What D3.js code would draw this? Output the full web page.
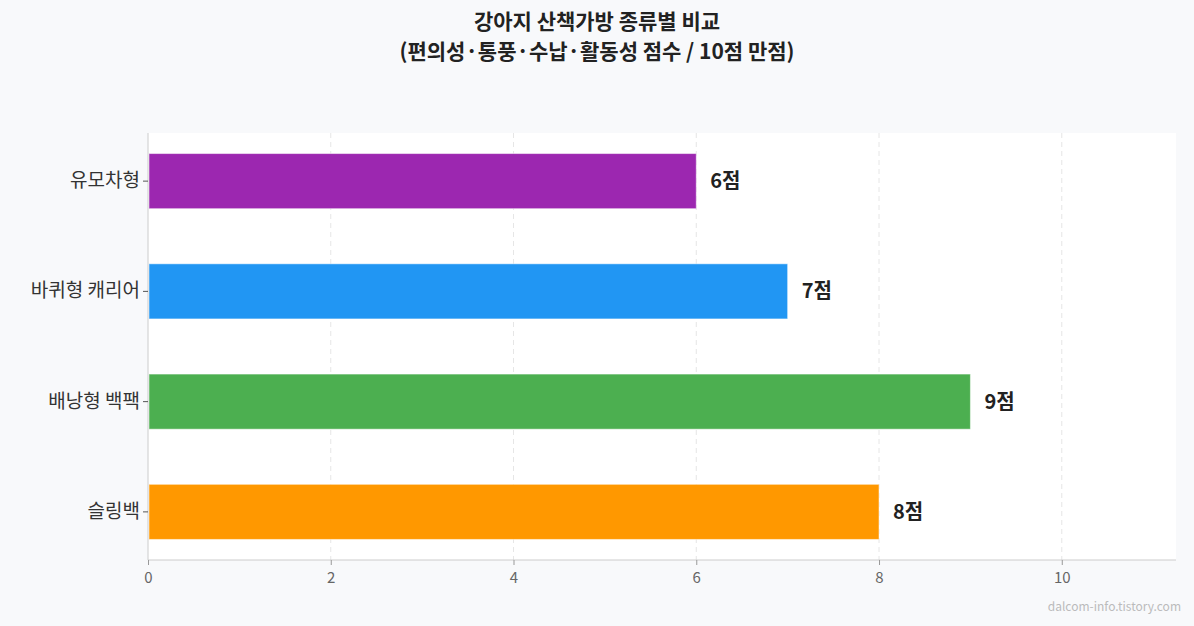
<!DOCTYPE html>
<html><head><meta charset="utf-8">
<script src="https://cdn.jsdelivr.net/npm/d3@7"></script>
<style>body{margin:0;background:#f8f9fb;font-family:"Noto Sans CJK KR","Noto Sans",sans-serif;}</style>
</head><body><svg id="c" width="1194" height="626"></svg>
<script>
const categories = ["유모차형","바퀴형 캐리어","배낭형 백팩","슬링백"];
const values = [6,7,9,8];
const colors = ["#9c27b0","#2196f3","#4caf50","#ff9800"];
const ticks = [0,2,4,6,8,10];
const titleLines = ["강아지 산책가방 종류별 비교","(편의성·통풍·수납·활동성 점수 / 10점 만점)"];

const svg = d3.select("#c");
const L=148,R=1176,T=133,B=560;
svg.append("rect").attr("x",L).attr("y",T).attr("width",R-L).attr("height",B-T).attr("fill","#fff");
const x = d3.scaleLinear().domain([0,11.25]).range([L,R]);
const y = d3.scaleBand().domain(categories).range([126,567]).paddingInner(0.5).paddingOuter(0.25);

svg.append("g").selectAll("line").data(ticks.slice(1)).join("line")
 .attr("x1",d=>x(d)).attr("x2",d=>x(d)).attr("y1",T).attr("y2",B)
 .attr("stroke","#e6e6e6").attr("stroke-dasharray","5,4");

svg.append("g").selectAll("rect").data(categories).join("rect")
 .attr("x",x(0)+1).attr("y",d=>y(d)).attr("height",y.bandwidth())
 .attr("width",(d,i)=>x(values[i])-x(0)-1).attr("fill",(d,i)=>colors[i])
 .attr("stroke","#ffffff").attr("stroke-opacity",0.5);

svg.append("g").selectAll("text").data(categories).join("text")
 .attr("x",(d,i)=>x(values[i])+14).attr("y",d=>y(d)+y.bandwidth()/2).attr("dy","0.35em")
 .attr("font-size",20).attr("font-weight","bold").attr("fill","#222")
 .text((d,i)=>values[i]+"점");

const xa = svg.append("g").attr("transform",`translate(0,${B})`)
 .call(d3.axisBottom(x).tickValues(ticks).tickSize(5).tickSizeOuter(0));
xa.select(".domain").attr("stroke","#ccc");
xa.selectAll(".tick line").attr("stroke","#999");
xa.selectAll("text").attr("font-size",15).attr("fill","#666").attr("font-family","'Noto Sans CJK KR',sans-serif").attr("dy","1em");
xa.select(".domain").attr("d",`M${L},0H${R}`);

const ya = svg.append("g").attr("transform",`translate(${L},0)`)
 .call(d3.axisLeft(y).tickSize(5).tickSizeOuter(0));
ya.select(".domain").attr("stroke","#ccc").attr("d",`M0,${T}V${B}`);
ya.selectAll(".tick line").attr("stroke","#555");
ya.selectAll("text").attr("font-size",19).attr("fill","#333").attr("font-family","'Noto Sans CJK KR',sans-serif");

svg.append("g").selectAll("text").data(titleLines).join("text")
 .attr("x",597).attr("y",(d,i)=>29+i*30).attr("text-anchor","middle")
 .attr("font-size",21).attr("font-weight","bold").attr("fill","#222").text(d=>d);

svg.append("text").attr("x",1181).attr("y",611).attr("text-anchor","end")
 .attr("font-size",12).attr("fill","#bbb").text("dalcom-info.tistory.com");
</script></body></html>
